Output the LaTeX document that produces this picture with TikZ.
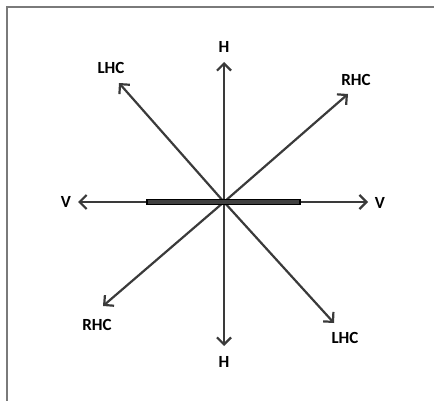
\documentclass[tikz,border=0pt]{standalone}
\usepackage{fontspec}
\setmainfont{Carlito}
\usetikzlibrary{arrows.meta}
\definecolor{ink}{HTML}{3A3A3A}
\definecolor{framec}{HTML}{7A7A7A}
\begin{document}
\begin{tikzpicture}[x=1pt,y=-1pt,
  ray/.style={draw=ink,line width=2.2pt,-{Straight Barb[length=7pt,width=14pt,line width=2.2pt]}},
  lbl/.style={font=\fontsize{17}{17}\selectfont\bfseries,text=black,inner sep=0pt}]
\useasboundingbox (0,0) rectangle (434,401);
\draw[framec,line width=1.6pt] (7,401) -- (7,7) -- (434,7);
\coordinate (c) at (224,202);
\coordinate (hu) at (224,62);
\coordinate (hd) at (224,346);
\coordinate (vl) at (78,202);
\coordinate (vr) at (368,202);
\coordinate (lu) at (119,83);
\coordinate (ru) at (348,94);
\coordinate (rd) at (103,306);
\coordinate (ld) at (334,323);
\foreach \t in {hu,hd,vl,vr,lu,ru,rd,ld} \draw[ray] (c) -- (\t);
\node[draw=black,fill=black!75,line width=1.2pt,minimum width=153pt,minimum height=5.5pt,inner sep=0pt] (bar) at (223.5,202) {};
\node[lbl] (tH) at (224,47) {H};
\node[lbl] (bH) at (224,362) {H};
\node[lbl] (lV) at (66,202) {V};
\node[lbl] (rV) at (380,203) {V};
\node[lbl] (tL) at (111,68) {LHC};
\node[lbl] (tR) at (356,80) {RHC};
\node[lbl] (bR) at (97,325) {RHC};
\node[lbl] (bL) at (345,338) {LHC};
\end{tikzpicture}
\end{document}
